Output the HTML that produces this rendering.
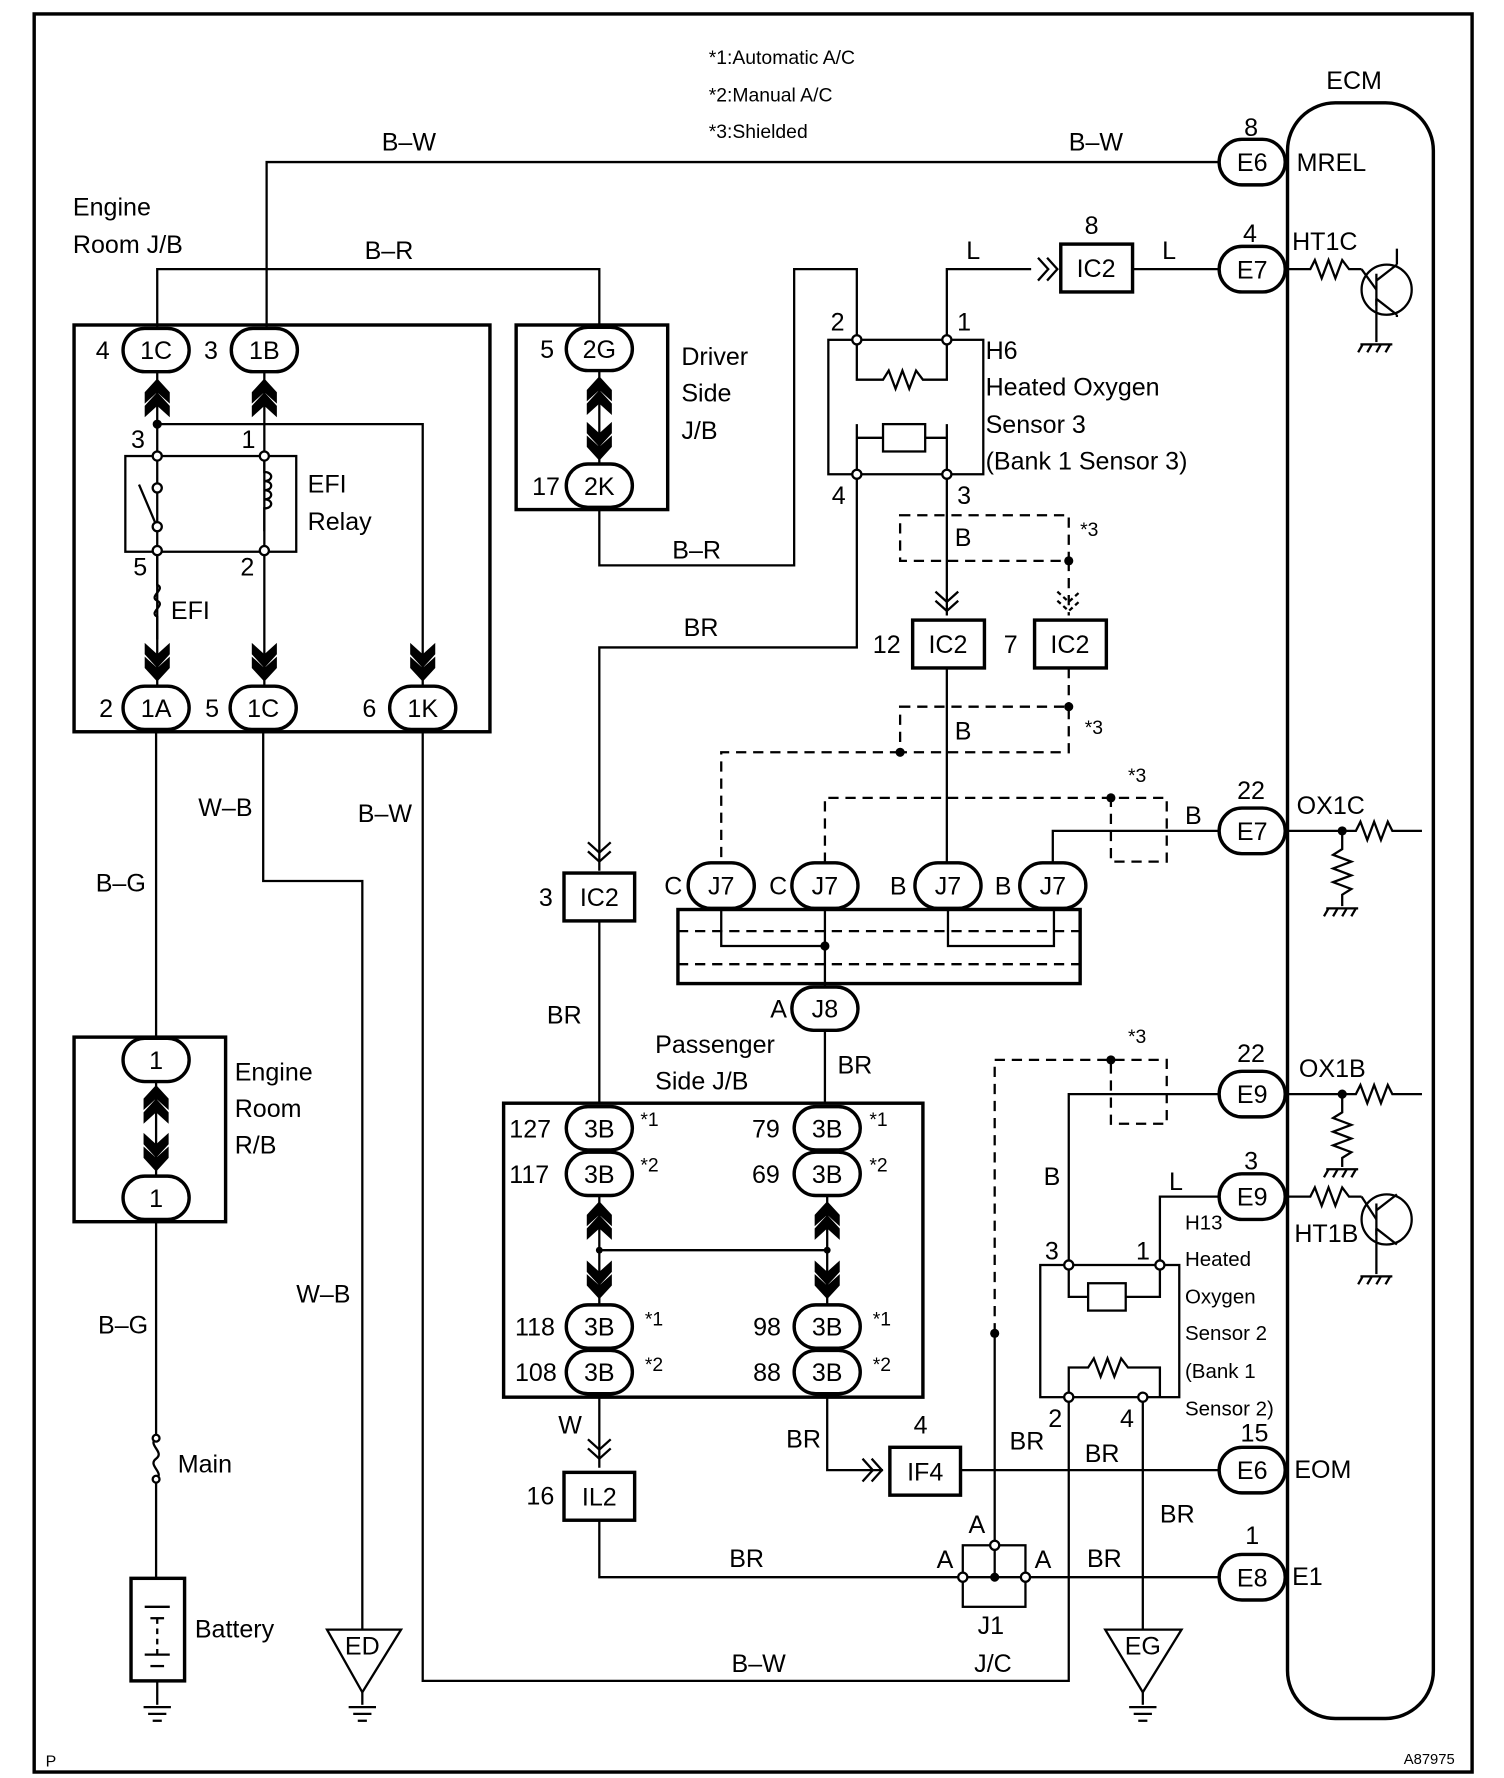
<!DOCTYPE html>
<html><head><meta charset="utf-8"><style>
html,body{margin:0;padding:0;background:#fff}
svg{display:block}
text{font-family:"Liberation Sans",sans-serif;fill:#000}
</style></head><body>
<svg width="1504" height="1778" viewBox="0 0 1320 1560" xmlns="http://www.w3.org/2000/svg">
<defs>
<g id="up"><polygon points="0,-26 11,-14 11,-4 0,-14 -11,-4 -11,-14" /><polygon points="0,-14 11,-2 11,8 0,-2 -11,8 -11,-2"/></g>
<g id="dn"><polygon points="0,26 11,14 11,4 0,14 -11,4 -11,14"/><polygon points="0,14 11,2 11,-8 0,2 -11,-8 -11,2"/></g>
<g id="gnd" stroke="#000" stroke-width="2"><line x1="-12" y1="0" x2="12" y2="0"/><line x1="-8" y1="6" x2="8" y2="6"/><line x1="-4" y1="12" x2="4" y2="12"/></g>
<g id="gnd2" stroke="#000" stroke-width="2"><line x1="-14" y1="0" x2="14" y2="0"/><line x1="-12" y1="0" x2="-16" y2="7"/><line x1="-4" y1="0" x2="-8" y2="7"/><line x1="4" y1="0" x2="0" y2="7"/><line x1="12" y1="0" x2="8" y2="7"/></g>
<g id="arr" fill="none" stroke="#000" stroke-width="2"><polyline points="-9,-10 0,0 -9,10"/><polyline points="-1,-10 8,0 -1,10"/></g>
<g id="arrd" fill="none" stroke="#000" stroke-width="2"><polyline points="-10,-9 0,0 10,-9"/><polyline points="-10,-1 0,8 10,-1"/></g>
</defs>
<g font-size="22">
<rect x="30" y="12" width="1262" height="1543" fill="none" stroke="#000" stroke-width="3"/>
<text x="40" y="1550" font-size="14">P</text>
<text x="1232" y="1548" font-size="13">A87975</text>
<text x="622" y="56" font-size="17">*1:Automatic A/C</text>
<text x="622" y="89" font-size="17">*2:Manual A/C</text>
<text x="622" y="121" font-size="17">*3:Shielded</text>
<text x="1164" y="78">ECM</text>
<rect x="1130" y="90" width="128" height="1418" rx="42" fill="none" stroke="#000" stroke-width="3"/>

<g fill="none" stroke="#000" stroke-width="2">
<!-- B-W top -->
<polyline points="234,288 234,142 1070,142"/>
<polyline points="138,288 138,236 526,236 526,286"/>
<!-- inside JB -->
<line x1="138" y1="326" x2="138" y2="602"/>
<line x1="232" y1="326" x2="232" y2="602"/>
<polyline points="138,372 371,372 371,602"/>
<rect x="110" y="400" width="150" height="84"/>
<line x1="122" y1="425" x2="136" y2="458"/>
<path d="M232,404 v10 c8,0 8,8 0,8 c8,0 8,8 0,8 c8,0 8,8 0,8 c8,0 8,8 0,8 v20"/>
<path d="M138,483 v30 c8,4 -8,10 0,14 c8,4 -8,10 0,14 v20"/>
<!-- driver JB -->
<line x1="526" y1="326" x2="526" y2="406"/>
<polyline points="526,446 526,496 697,496 697,236 752,236 752,298"/>
<!-- H6 -->
<rect x="727" y="298" width="136" height="118"/>
<polyline points="752,298 752,333 775,333 780,325 786,341 792,325 798,341 804,325 810,333 831,333 831,298"/>
<rect x="775" y="372" width="37" height="24"/>
<polyline points="775,384 752,384"/><polyline points="812,384 831,384"/>
<polyline points="752,372 752,416"/><polyline points="831,372 831,416"/>
<polyline points="831,298 831,236 905,236"/>
<line x1="994" y1="236" x2="1070" y2="236"/>
<polyline points="1128,236 1150,236 1154,228 1160,244 1166,228 1172,244 1178,228 1184,236 1195,236"/>
<circle cx="1217" cy="254" r="22"/>
<line x1="1208" y1="240" x2="1208" y2="268"/><line x1="1195" y1="236" x2="1208" y2="254"/>
<line x1="1208" y1="246" x2="1226" y2="232"/><line x1="1208" y1="262" x2="1226" y2="276"/>
<line x1="1226" y1="232" x2="1226" y2="218"/><line x1="1226" y1="276" x2="1226" y2="278"/>
<line x1="1208" y1="262" x2="1208" y2="300"/>
<polyline points="752,416 752,568 526,568 526,764"/>
<line x1="831" y1="416" x2="831" y2="540"/>
<line x1="831" y1="586" x2="831" y2="760"/>
<!-- IC2 lower -->
<line x1="526" y1="808" x2="526" y2="968"/>
<!-- J/C -->
<polyline points="924,757 924,729 1070,729"/>
<rect x="595" y="798" width="353" height="65" stroke-width="3"/>
<polyline points="633,798 633,830 724,830"/>
<polyline points="832,798 832,830 925,830 925,798"/>
<line x1="724" y1="798" x2="724" y2="866"/>
<line x1="724" y1="905" x2="724" y2="968"/>
<polyline points="1128,729 1190,729 1194,721 1200,737 1206,721 1212,737 1218,721 1222,729 1248,729"/>
<polyline points="1178,729 1178,745 1170,750 1186,756 1170,762 1186,768 1170,774 1186,780 1178,785 1178,795"/>
<!-- passenger -->
<rect x="442" y="968" width="368" height="258" stroke-width="3"/>
<line x1="526" y1="1050" x2="526" y2="1144"/>
<line x1="726" y1="1050" x2="726" y2="1144"/>
<line x1="526" y1="1097" x2="726" y2="1097"/>
<line x1="526" y1="1224" x2="526" y2="1288"/>
<polyline points="526,1334 526,1384 845,1384"/>
<polyline points="726,1224 726,1290 775,1290"/>
<line x1="843" y1="1290" x2="1070" y2="1290"/>
<line x1="900" y1="1384" x2="1070" y2="1384"/>
<rect x="845" y="1356" width="55" height="54"/>
<line x1="873" y1="1170" x2="873" y2="1356"/>
<line x1="873" y1="1356" x2="873" y2="1384"/><line x1="845" y1="1384" x2="900" y2="1384"/>
<!-- H13 -->
<polyline points="938,1110 938,960 1070,960"/>
<polyline points="1018,1110 1018,1050 1070,1050"/>
<rect x="913" y="1110" width="122" height="116"/>
<polyline points="938,1110 938,1138 955,1138"/><rect x="955" y="1126" width="33" height="24"/><polyline points="988,1138 1018,1138 1018,1110"/>
<polyline points="938,1226 938,1200 955,1200 960,1192 966,1208 972,1192 978,1208 984,1192 990,1200 1018,1200 1018,1226"/>
<polyline points="1003,1226 1003,1430"/>
<polyline points="938,1226 938,1475 371,1475 371,640"/>
<polyline points="1128,960 1190,960 1194,952 1200,968 1206,952 1212,968 1218,952 1222,960 1248,960"/>
<polyline points="1178,960 1178,976 1170,981 1186,987 1170,993 1186,999 1170,1005 1186,1011 1178,1016 1178,1024"/>
<polyline points="1128,1050 1150,1050 1154,1042 1160,1058 1166,1042 1172,1058 1178,1042 1184,1050 1195,1050"/>
<circle cx="1217" cy="1070" r="22"/>
<line x1="1208" y1="1056" x2="1208" y2="1084"/><line x1="1195" y1="1050" x2="1208" y2="1070"/>
<line x1="1208" y1="1062" x2="1226" y2="1048"/><line x1="1208" y1="1078" x2="1226" y2="1092"/>
<line x1="1208" y1="1078" x2="1208" y2="1118"/>
<!-- left column -->
<polyline points="137,640 137,910"/>
<line x1="137" y1="950" x2="137" y2="1031"/>
<polyline points="137,1072 137,1262"/>
<path d="M137,1262 c-8,6 8,12 0,18 c-8,6 8,12 0,18 v88"/>
<rect x="115" y="1385" width="47" height="90" stroke-width="3"/>
<line x1="127" y1="1410" x2="149" y2="1410"/><line x1="132" y1="1420" x2="144" y2="1420"/>
<line x1="138" y1="1420" x2="138" y2="1452" stroke-dasharray="5,4"/>
<line x1="127" y1="1452" x2="149" y2="1452"/><line x1="132" y1="1462" x2="144" y2="1462"/>
<line x1="138" y1="1475" x2="138" y2="1496"/>
<rect x="65" y="910" width="133" height="162" stroke-width="3"/>
<polyline points="231,640 231,773 318,773 318,1430"/>
<polygon points="287,1430 352,1430 318,1485"/>
<line x1="318" y1="1485" x2="318" y2="1496"/>
<polygon points="970,1430 1037,1430 1003,1485"/>
<line x1="1003" y1="1485" x2="1003" y2="1496"/>
<rect x="65" y="285" width="365" height="357" stroke-width="3"/>
<rect x="453" y="285" width="133" height="162" stroke-width="3"/>
</g>
<!-- dashed -->
<g fill="none" stroke="#000" stroke-width="2" stroke-dasharray="9,6">
<rect x="790" y="452" width="148" height="40"/>
<line x1="938" y1="492" x2="938" y2="540"/>
<line x1="938" y1="586" x2="938" y2="620"/>
<rect x="790" y="620" width="148" height="40"/>
<polyline points="790,660 633,660 633,757"/>
<polyline points="724,757 724,700 1024,700 1024,756 975,756 975,700"/>
<line x1="595" y1="817" x2="948" y2="817"/>
<line x1="595" y1="846" x2="948" y2="846"/>
<polyline points="873,1170 873,930 1024,930 1024,986 975,986 975,930"/>
</g>
<g fill="#000">
<circle cx="138" cy="372" r="4"/><circle cx="938" cy="492" r="4"/><circle cx="938" cy="620" r="4"/><circle cx="790" cy="660" r="4"/>
<circle cx="975" cy="700" r="4"/><circle cx="724" cy="830" r="4"/><circle cx="1178" cy="729" r="4"/><circle cx="1178" cy="960" r="4"/>
<circle cx="975" cy="930" r="4"/><circle cx="873" cy="1170" r="4"/><circle cx="873" cy="1384" r="4"/>
<circle cx="526" cy="1097" r="3"/><circle cx="726" cy="1097" r="3"/>
</g>
<g fill="#fff" stroke="#000" stroke-width="2">
<circle cx="138" cy="400" r="4"/><circle cx="232" cy="400" r="4"/><circle cx="138" cy="483" r="4"/><circle cx="232" cy="483" r="4"/>
<circle cx="138" cy="428" r="4"/><circle cx="138" cy="462" r="4"/>
<circle cx="752" cy="298" r="4"/><circle cx="831" cy="298" r="4"/><circle cx="752" cy="416" r="4"/><circle cx="831" cy="416" r="4"/>
<circle cx="938" cy="1110" r="4"/><circle cx="1018" cy="1110" r="4"/><circle cx="938" cy="1226" r="4"/><circle cx="1003" cy="1226" r="4"/>
<circle cx="873" cy="1356" r="4"/><circle cx="845" cy="1384" r="4"/><circle cx="900" cy="1384" r="4"/>
<circle cx="137" cy="1262" r="3"/><circle cx="137" cy="1298" r="3"/>
</g>
<!-- chevrons -->
<use href="#up" x="138" y="358"/><use href="#up" x="232" y="358"/>
<use href="#dn" x="138" y="572"/><use href="#dn" x="232" y="572"/><use href="#dn" x="371" y="572"/>
<use href="#up" x="526" y="356"/><use href="#dn" x="526" y="378"/>
<use href="#up" x="137" y="978"/><use href="#dn" x="137" y="1002"/>
<use href="#up" x="526" y="1080"/><use href="#dn" x="526" y="1114"/>
<use href="#up" x="726" y="1080"/><use href="#dn" x="726" y="1114"/>
<!-- small arrows -->
<use href="#arr" x="920" y="236"/><use href="#arr" x="766" y="1290"/>
<use href="#arrd" x="831" y="528"/><use href="#arrd" x="938" y="528" stroke-dasharray="4,3"/>
<use href="#arrd" x="526" y="748"/><use href="#arrd" x="526" y="1272"/>
<!-- grounds -->
<use href="#gnd" x="138" y="1498"/><use href="#gnd" x="318" y="1498"/><use href="#gnd" x="1003" y="1498"/>
<use href="#gnd2" x="1208" y="302"/><use href="#gnd2" x="1178" y="797"/><use href="#gnd2" x="1178" y="1026"/><use href="#gnd2" x="1208" y="1120"/>
<!-- boxes -->
<g fill="#fff" stroke="#000" stroke-width="3">
<rect x="931" y="214" width="63" height="42"/>
<rect x="801" y="544" width="63" height="42"/>
<rect x="908" y="544" width="63" height="42"/>
<rect x="495" y="766" width="62" height="42"/>
<rect x="495" y="1292" width="62" height="42"/>
<rect x="781" y="1270" width="62" height="42"/>
</g>
<!-- pills -->
<g fill="#fff" stroke="#000" stroke-width="3">
<rect x="108" y="288" width="58" height="38" rx="19"/><rect x="203" y="288" width="58" height="38" rx="19"/>
<rect x="108" y="602" width="58" height="38" rx="19"/><rect x="202" y="602" width="58" height="38" rx="19"/><rect x="342" y="602" width="58" height="38" rx="19"/>
<rect x="497" y="287" width="58" height="38" rx="19"/><rect x="497" y="407" width="58" height="38" rx="19"/>
<rect x="108" y="911" width="58" height="38" rx="19"/><rect x="108" y="1032" width="58" height="38" rx="19"/>
<rect x="1070" y="122" width="58" height="40" rx="20"/><rect x="1070" y="216" width="58" height="40" rx="20"/>
<rect x="1070" y="709" width="58" height="40" rx="20"/><rect x="1070" y="940" width="58" height="40" rx="20"/>
<rect x="1070" y="1030" width="58" height="40" rx="20"/><rect x="1070" y="1270" width="58" height="40" rx="20"/>
<rect x="1070" y="1364" width="58" height="40" rx="20"/>
<rect x="604" y="757" width="58" height="40" rx="20"/><rect x="695" y="757" width="58" height="40" rx="20"/>
<rect x="803" y="757" width="58" height="40" rx="20"/><rect x="895" y="757" width="58" height="40" rx="20"/>
<rect x="695" y="866" width="58" height="38" rx="19"/>
<rect x="497" y="971" width="58" height="38" rx="19"/><rect x="497" y="1011" width="58" height="38" rx="19"/>
<rect x="697" y="971" width="58" height="38" rx="19"/><rect x="697" y="1011" width="58" height="38" rx="19"/>
<rect x="497" y="1145" width="58" height="38" rx="19"/><rect x="497" y="1185" width="58" height="38" rx="19"/>
<rect x="697" y="1145" width="58" height="38" rx="19"/><rect x="697" y="1185" width="58" height="38" rx="19"/>
</g>
<g text-anchor="middle">
<text x="137" y="315">1C</text><text x="232" y="315">1B</text>
<text x="137" y="629">1A</text><text x="231" y="629">1C</text><text x="371" y="629">1K</text>
<text x="526" y="314">2G</text><text x="526" y="434">2K</text>
<text x="137" y="938">1</text><text x="137" y="1059">1</text>
<text x="1099" y="150">E6</text><text x="1099" y="244">E7</text><text x="1099" y="737">E7</text>
<text x="1099" y="968">E9</text><text x="1099" y="1058">E9</text><text x="1099" y="1298">E6</text><text x="1099" y="1392">E8</text>
<text x="633" y="785">J7</text><text x="724" y="785">J7</text><text x="832" y="785">J7</text><text x="924" y="785">J7</text>
<text x="724" y="893">J8</text>
<text x="526" y="998">3B</text><text x="526" y="1038">3B</text><text x="726" y="998">3B</text><text x="726" y="1038">3B</text>
<text x="526" y="1172">3B</text><text x="526" y="1212">3B</text><text x="726" y="1172">3B</text><text x="726" y="1212">3B</text>
<text x="962" y="243">IC2</text><text x="832" y="573">IC2</text><text x="939" y="573">IC2</text><text x="526" y="795">IC2</text>
<text x="526" y="1321">IL2</text><text x="812" y="1299">IF4</text>
<text x="318" y="1452">ED</text><text x="1003" y="1452">EG</text>
<text x="1098" y="119">8</text><text x="958" y="205">8</text><text x="1097" y="212">4</text><text x="1098" y="701">22</text>
<text x="1098" y="932">22</text><text x="1098" y="1026">3</text><text x="1101" y="1265">15</text><text x="1099" y="1355">1</text><text x="808" y="1258">4</text>
</g>
<text x="84" y="315">4</text><text x="179" y="315">3</text>
<text x="87" y="629">2</text><text x="180" y="629">5</text><text x="318" y="629">6</text>
<text x="474" y="314">5</text><text x="467" y="434">17</text>
<text x="115" y="393">3</text><text x="212" y="393">1</text><text x="117" y="505">5</text><text x="211" y="505">2</text>
<text x="729" y="290">2</text><text x="840" y="290">1</text><text x="730" y="442">4</text><text x="840" y="442">3</text>
<text x="766" y="573">12</text><text x="881" y="573">7</text><text x="473" y="795">3</text>
<text x="583" y="785">C</text><text x="675" y="785">C</text><text x="781" y="785">B</text><text x="873" y="785">B</text><text x="676" y="893">A</text>
<text x="447" y="998">127</text><text x="447" y="1038">117</text><text x="660" y="998">79</text><text x="660" y="1038">69</text>
<text x="452" y="1172">118</text><text x="452" y="1212">108</text><text x="661" y="1172">98</text><text x="661" y="1212">88</text>
<g font-size="17"><text x="562" y="988">*1</text><text x="562" y="1028">*2</text><text x="763" y="988">*1</text><text x="763" y="1028">*2</text>
<text x="566" y="1163">*1</text><text x="566" y="1203">*2</text><text x="766" y="1163">*1</text><text x="766" y="1203">*2</text>
<text x="948" y="470">*3</text><text x="952" y="644">*3</text><text x="990" y="686">*3</text><text x="990" y="915">*3</text></g>
<text x="462" y="1320">16</text>
<text x="917" y="1105">3</text><text x="997" y="1105">1</text><text x="920" y="1252">2</text><text x="983" y="1252">4</text>
<text x="850" y="1345">A</text><text x="822" y="1376">A</text><text x="908" y="1376">A</text>
<text x="858" y="1434">J1</text><text x="855" y="1467">J/C</text>
<text x="335" y="132">B–W</text><text x="938" y="132">B–W</text><text x="320" y="227">B–R</text>
<text x="64" y="189">Engine</text><text x="64" y="222">Room J/B</text>
<text x="270" y="432">EFI</text><text x="270" y="465">Relay</text><text x="150" y="543">EFI</text>
<text x="598" y="320">Driver</text><text x="598" y="352">Side</text><text x="598" y="385">J/B</text>
<text x="590" y="490">B–R</text><text x="600" y="558">BR</text>
<text x="848" y="227">L</text><text x="1020" y="227">L</text>
<text x="865" y="315">H6</text><text x="865" y="347">Heated Oxygen</text><text x="865" y="380">Sensor 3</text><text x="865" y="412">(Bank 1 Sensor 3)</text>
<text x="1138" y="150">MREL</text><text x="1134" y="219">HT1C</text>
<text x="838" y="479">B</text><text x="838" y="649">B</text><text x="1040" y="723">B</text>
<text x="1138" y="714">OX1C</text><text x="1140" y="945">OX1B</text><text x="1136" y="1090">HT1B</text>
<text x="1136" y="1297">EOM</text><text x="1134" y="1391">E1</text>
<text x="575" y="924">Passenger</text><text x="575" y="956">Side J/B</text>
<text x="480" y="898">BR</text><text x="735" y="942">BR</text>
<text x="916" y="1040">B</text><text x="1026" y="1044">L</text>
<g font-size="18"><text x="1040" y="1079">H13</text><text x="1040" y="1111">Heated</text><text x="1040" y="1144">Oxygen</text><text x="1040" y="1176">Sensor 2</text><text x="1040" y="1209">(Bank 1</text><text x="1040" y="1242">Sensor 2)</text></g>
<text x="490" y="1258">W</text><text x="690" y="1270">BR</text><text x="640" y="1375">BR</text>
<text x="886" y="1272">BR</text><text x="952" y="1283">BR</text><text x="1018" y="1336">BR</text><text x="954" y="1375">BR</text>
<text x="642" y="1467">B–W</text>
<text x="174" y="716">W–B</text><text x="314" y="721">B–W</text><text x="84" y="782">B–G</text>
<text x="260" y="1143">W–B</text><text x="86" y="1170">B–G</text>
<text x="206" y="948">Engine</text><text x="206" y="980">Room</text><text x="206" y="1012">R/B</text>
<text x="156" y="1292">Main</text><text x="171" y="1437">Battery</text>
</g>
</svg>
</body></html>
